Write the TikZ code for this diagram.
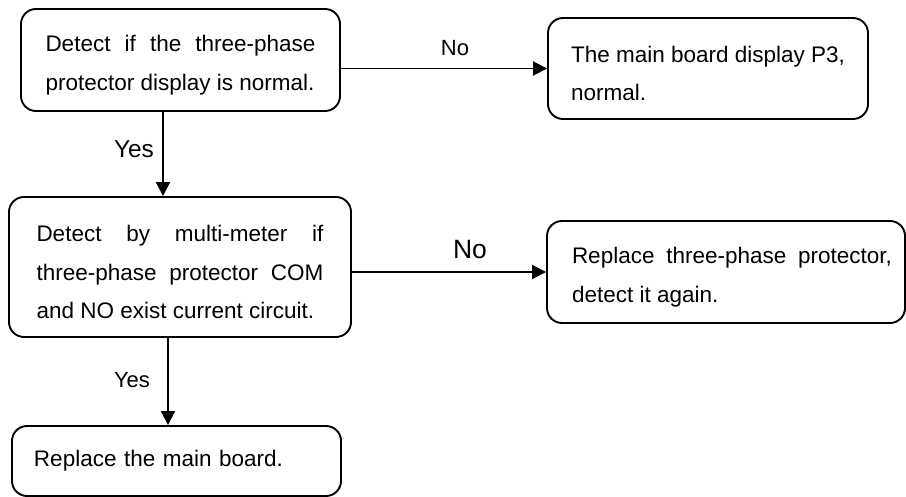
\documentclass[tikz,border=0pt]{standalone}
\usepackage{fontspec}
\setmainfont{Liberation Sans}
\usetikzlibrary{arrows.meta}
\newcommand{\tallstrut}{\rule{0pt}{26.5pt}}
\begin{document}
\begin{tikzpicture}[x=1pt,y=-1pt,
  box/.style={draw=black,line width=1.9pt,rounded corners=15pt,align=left,inner sep=0pt,
    font=\fontsize{22.5}{38.5}\selectfont},
  arr/.style={line width=1.9pt,-{Triangle[length=14pt,width=14pt]}},
  lab/.style={inner sep=0pt}]
\useasboundingbox (0,0) rectangle (906,497);
\node[box,minimum width=319pt,minimum height=102pt] (b1) at (180.5,60)
  {\tallstrut\hbox to 270pt{Detect\hfill if\hfill the\hfill three-phase}\\protector display is normal.};
\node[box,minimum width=320pt,minimum height=101pt] (b2) at (708,68.5)
  {\tallstrut The main board display P3,\\normal.};
\node[box,minimum width=342pt,minimum height=140pt] (b3) at (180,267)
  {\tallstrut\hbox to 287pt{Detect\hfill by\hfill multi-meter\hfill if}\\\hbox to 287pt{three-phase\hfill protector\hfill COM}\\and NO exist current circuit.};
\node[box,minimum width=358pt,minimum height=102pt] (b4) at (726,272)
  {\tallstrut\hspace*{12pt}\hbox to 320pt{Replace\hfill three-phase\hfill protector,}\\\hspace*{12pt}detect it again.};
\node[box,minimum width=329pt,minimum height=70pt,text width=285pt] (b5) at (176.5,461)
  {Replace the main board.};
\coordinate (c1) at (163,0);
\coordinate (c2) at (168,0);
\draw[arr] (b1.east |- b2.west) -- (b2.west);
\draw[arr] (b3.east |- b4.west) -- (b4.west);
\draw[arr] (b1.south -| c1) -- (b3.north -| c1);
\draw[arr] (b3.south -| c2) -- (b5.north -| c2);
\node[lab,font=\fontsize{22}{24}\selectfont] (n1) at (455,48) {No};
\node[lab,font=\fontsize{26.5}{28}\selectfont] (n2) at (470,250) {No};
\node[lab,font=\fontsize{24.4}{26}\selectfont] (y1) at (134,149) {Yes};
\node[lab,font=\fontsize{22}{24}\selectfont] (y2) at (132,380) {Yes};
\end{tikzpicture}
\end{document}
